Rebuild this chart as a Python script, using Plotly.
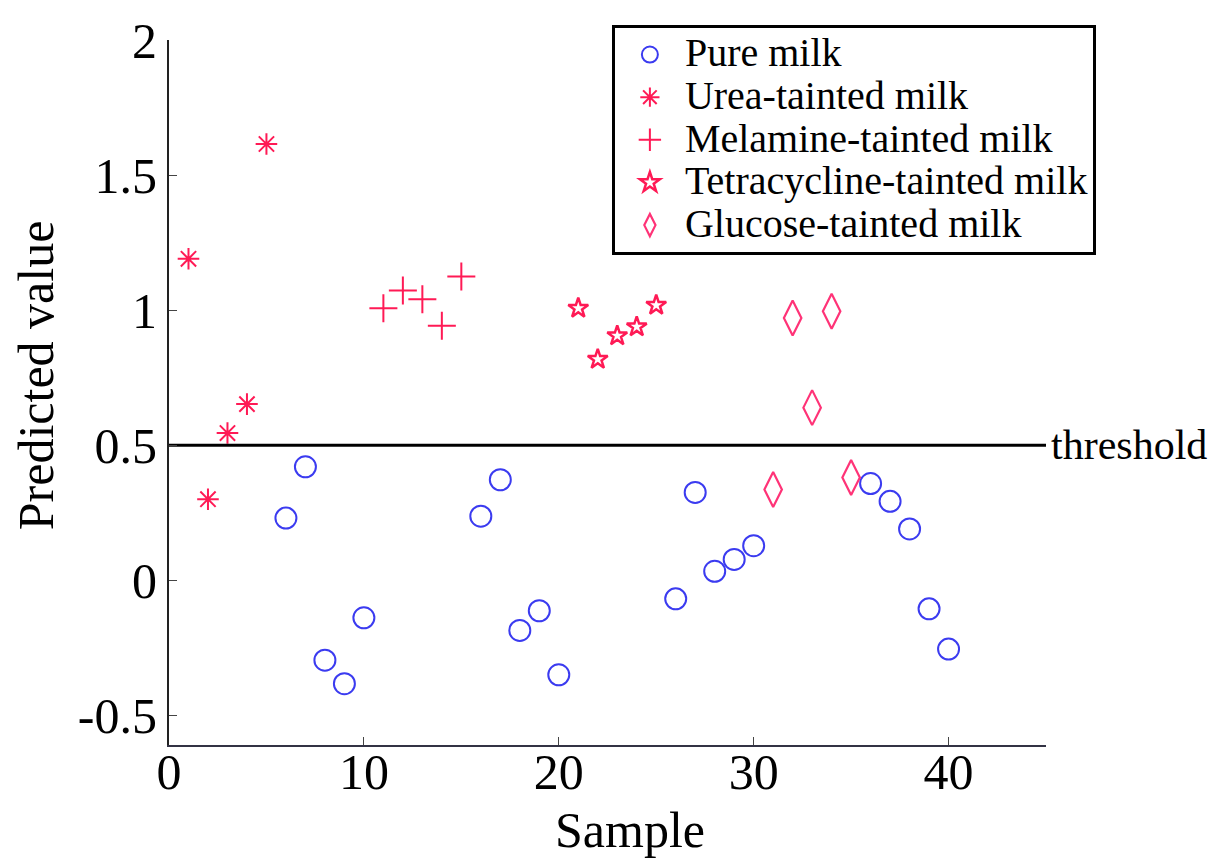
import plotly.graph_objects as go

pure_x = [6, 7, 8, 9, 10, 16, 17, 18, 19, 20, 26, 27, 28, 29, 30, 36, 37, 38, 39, 40]
pure_y = [0.23, 0.42, -0.296, -0.383, -0.139, 0.237, 0.372, -0.186, -0.113, -0.35,
          -0.069, 0.325, 0.033, 0.077, 0.128, 0.358, 0.292, 0.19, -0.106, -0.255]
urea_x = [1, 2, 3, 4, 5]
urea_y = [1.19, 0.30, 0.545, 0.652, 1.615]
mel_x = [11, 12, 13, 14, 15]
mel_y = [1.007, 1.073, 1.04, 0.942, 1.124]
tet_x = [21, 22, 23, 24, 25]
tet_y = [1.007, 0.818, 0.905, 0.938, 1.018]
glu_x = [31, 32, 33, 34, 35]
glu_y = [0.336, 0.971, 0.639, 0.996, 0.38]
threshold_x = [0, 45]
threshold_y = [0.5, 0.5]
series_names = ["Pure milk", "Urea-tainted milk", "Melamine-tainted milk",
                "Tetracycline-tainted milk", "Glucose-tainted milk"]

BLUE = "#3b3bf0"
RED = "#ff1a55"
PINK = "#ff3377"
FONT = "Liberation Serif"


def lname(s):
    return '<span style="font-size:40px">' + s + '</span>'


fig = go.Figure()
fig.add_trace(go.Scatter(x=pure_x, y=pure_y, mode="markers", name=lname(series_names[0]),
                         marker=dict(symbol="circle-open", size=21, color=BLUE,
                                     line=dict(width=2, color=BLUE))))
fig.add_trace(go.Scatter(x=urea_x, y=urea_y, mode="markers", name=lname(series_names[1]),
                         marker=dict(symbol="asterisk-open", size=18, color=RED,
                                     line=dict(width=2, color=RED))))
fig.add_trace(go.Scatter(x=mel_x, y=mel_y, mode="markers", name=lname(series_names[2]),
                         marker=dict(symbol="cross-thin-open", size=20, color=RED,
                                     line=dict(width=2, color=RED))))
fig.add_trace(go.Scatter(x=tet_x, y=tet_y, mode="markers", name=lname(series_names[3]),
                         marker=dict(symbol="star-open", size=15, color=RED,
                                     line=dict(width=2.5, color=RED))))
fig.add_trace(go.Scatter(x=glu_x, y=glu_y, mode="markers", name=lname(series_names[4]),
                         marker=dict(symbol="diamond-tall-open", size=25, color=PINK,
                                     line=dict(width=2.2, color=PINK))))
fig.add_trace(go.Scatter(x=threshold_x, y=threshold_y, mode="lines", showlegend=False,
                         line=dict(color="black", width=3)))

fig.add_annotation(x=45, y=0.5, text="threshold", showarrow=False, xanchor="left",
                   xshift=3, font=dict(family=FONT, size=42, color="black"))
fig.add_annotation(xref="paper", yref="paper", x=0.5257, y=0, yshift=-85,
                   xanchor="center", yanchor="middle", showarrow=False, text="Sample",
                   font=dict(family=FONT, size=50, color="black"))
fig.add_annotation(xref="paper", yref="paper", x=0, xshift=-133, y=0.5245,
                   xanchor="center", yanchor="middle", showarrow=False, textangle=-90,
                   text="Predicted value", font=dict(family=FONT, size=50, color="black"))

fig.update_layout(
    width=1223, height=865,
    margin=dict(l=169, r=177, t=30, b=120),
    paper_bgcolor="white", plot_bgcolor="white",
    font=dict(family=FONT, color="black"),
    showlegend=True,
    legend=dict(x=0.505, y=1.021, xanchor="left", yanchor="top",
                xref="paper", yref="paper",
                bordercolor="black", borderwidth=3, bgcolor="white",
                font=dict(family=FONT, size=30.5, color="black"),
                tracegroupgap=0, itemsizing="trace", itemwidth=60),
    xaxis=dict(range=[0, 45], tickvals=[0, 10, 20, 30, 40], ticks="inside", ticklen=8,
               showline=True, linecolor="#333344", linewidth=2, showgrid=False, zeroline=False,
               ticklabelstandoff=-18,
               tickfont=dict(family=FONT, size=50)),
    yaxis=dict(range=[-0.61, 2.0], tickvals=[-0.5, 0, 0.5, 1, 1.5, 2], ticktext=["-0.5", "0", "0.5", "1", "1.5", "2"],
               ticks="inside", ticklen=8,
               showline=True, linecolor="#222222", linewidth=2, showgrid=False, zeroline=False,
               tickfont=dict(family=FONT, size=50)),
)
for t in fig.data:
    t.cliponaxis = False

fig.write_html("out.html")
